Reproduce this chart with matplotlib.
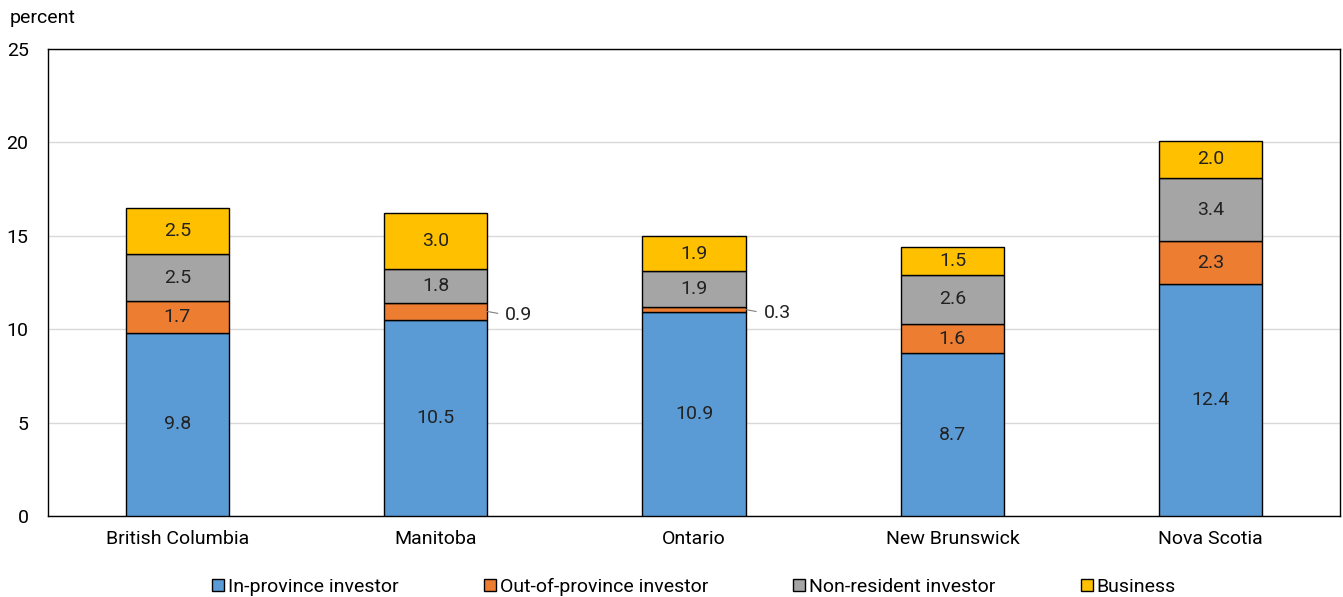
import matplotlib.pyplot as plt
import numpy as np

plt.rcParams['font.family'] = ['Roboto', 'DejaVu Sans']

provinces = ['British Columbia', 'Manitoba', 'Ontario', 'New Brunswick', 'Nova Scotia']
in_prov = [9.8, 10.5, 10.9, 8.7, 12.4]
out_prov = [1.7, 0.9, 0.3, 1.6, 2.3]
non_res = [2.5, 1.8, 1.9, 2.6, 3.4]
business = [2.5, 3.0, 1.9, 1.5, 2.0]

series = [in_prov, out_prov, non_res, business]
names = ['In-province investor', 'Out-of-province investor', 'Non-resident investor', 'Business']
colors = ['#5B9BD5', '#ED7D31', '#A5A5A5', '#FFC000']

fig = plt.figure(figsize=(13.43, 5.97), dpi=100)
ax = fig.add_axes([48/1343, 1 - 516/597, 1292/1343, 467/597])

x = np.arange(len(provinces))
w = 0.4
bottom = np.zeros(len(provinces))
for vals, name, col in zip(series, names, colors):
    ax.bar(x, vals, w, bottom=bottom, color=col, edgecolor='black', linewidth=1, label=name, zorder=3)
    for i, v in enumerate(vals):
        mid = bottom[i] + v / 2
        if v < 1.0:
            # small segment: label outside with leader line
            ax.plot([x[i] + w/2, x[i] + w/2 + 0.04], [mid, mid - 0.1], color='#808080', lw=0.8, zorder=4)
            ax.text(x[i] + w/2 + 0.07, mid - 0.2, f'{v:.1f}', ha='left', va='center', fontsize=14, color='#222222')
        else:
            ax.text(x[i], mid, f'{v:.1f}', ha='center', va='center', fontsize=14, color='#222222', zorder=5)
    bottom += np.array(vals)

ax.set_xlim(-0.5, len(provinces) - 0.5)
ax.set_ylim(0, 25)
ax.set_yticks([0, 5, 10, 15, 20, 25])
ax.set_xticks(x)
ax.set_xticklabels(provinces, fontsize=14)
ax.tick_params(axis='y', labelsize=14, length=0, pad=14)
ax.tick_params(axis='x', length=0, pad=10)
ax.grid(axis='y', color='#d9d9d9', linewidth=1, zorder=0)
for s in ax.spines.values():
    s.set_color('black')
    s.set_linewidth(1)

fig.text(10/1343, 1 - 18/597, 'percent', fontsize=14, va='center', ha='left')

ax.legend(loc='upper center', bbox_to_anchor=(0.5, -0.095), ncol=4, frameon=False, fontsize=14,
          handlelength=0.6, handleheight=0.6, handletextpad=0.2, columnspacing=4.4)

fig.savefig('out.png', dpi=100)
